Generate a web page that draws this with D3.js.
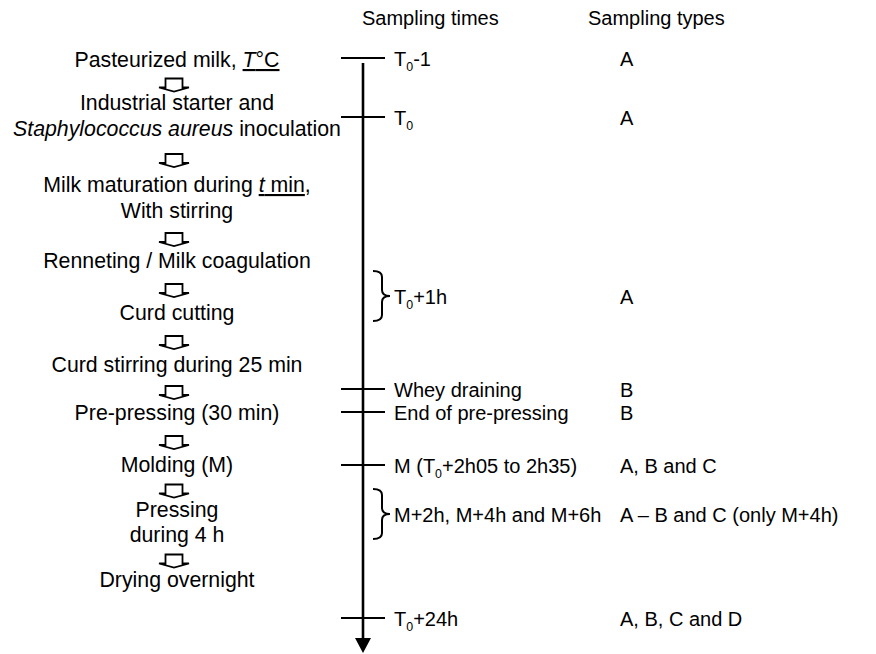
<!DOCTYPE html>
<html>
<head>
<meta charset="utf-8">
<script src="https://cdn.jsdelivr.net/npm/d3@7"></script>
<style>
  html, body { margin: 0; padding: 0; background: #fff; }
  svg { display: block; font-family: "Liberation Sans", Arial, Helvetica, sans-serif; }
</style>
</head>
<body>
<svg id="chart" width="876" height="654"></svg>
<script>
// ---------------- DATA ----------------
// Process steps (left column): each step = list of lines, each line = list of rich-text segments
// t: text, i: italic, u: underline, s: subscript
const processSteps = [
  [[{t:"Pasteurized milk, "},{t:"T",i:1,u:1},{t:"°C",u:1}]],
  [[{t:"Industrial starter and"}],[{t:"Staphylococcus aureus",i:1},{t:" inoculation"}]],
  [[{t:"Milk maturation during "},{t:"t",i:1,u:1},{t:" min",u:1},{t:","}],[{t:"With stirring"}]],
  [[{t:"Renneting / Milk coagulation"}]],
  [[{t:"Curd cutting"}]],
  [[{t:"Curd stirring during 25 min"}]],
  [[{t:"Pre-pressing (30 min)"}]],
  [[{t:"Molding (M)"}]],
  [[{t:"Pressing"}],[{t:"during 4 h"}]],
  [[{t:"Drying overnight"}]]
];

const headers = ["Sampling times", "Sampling types"];

const samplingTimes = [
  [{t:"T"},{t:"0",s:1},{t:"-1"}],
  [{t:"T"},{t:"0",s:1}],
  [{t:"T"},{t:"0",s:1},{t:"+1h"}],
  [{t:"Whey draining"}],
  [{t:"End of pre-pressing"}],
  [{t:"M ("},{t:"T"},{t:"0",s:1},{t:"+2h05 to 2h35)"}],
  [{t:"M+2h, M+4h and M+6h"}],
  [{t:"T"},{t:"0",s:1},{t:"+24h"}]
];
const samplingTypes = ["A","A","A","B","B","A, B and C","A \u2013 B and C (only M+4h)","A, B, C and D"];
const markerKinds = ["tick","tick","brace","tick","tick","tick","brace","tick"];

// ---------------- LAYOUT ----------------
const stepBaselines = [[67],[110,136],[192,218],[268],[320],[372],[420],[472],[517,542],[587]];
const eventY = [58,117,296,389,412,465,514,618];
const braceHalf = 25;

const leftFont = 21.3, rightFont = 20;
const leftCx = 177, arrowCx = 174;
const axisX = 363, axisTop = 63, axisBottom = 653;
const timeX = 394, typeX = 620;

const svg = d3.select("#chart");

// y scale (identity pixel scale in layout units)
const y = d3.scaleLinear().domain([0, 654]).range([0, 654]);

function richText(sel, segs, size) {
  segs.forEach(seg => {
    const ts = sel.append("tspan").text(seg.t);
    if (seg.i) ts.attr("font-style", "italic");
    if (seg.u) ts.attr("text-decoration", "underline");
    if (seg.s) {
      ts.attr("font-size", size * 0.62).attr("dy", size * 0.27);
      seg._sub = true;
    }
  });
  // fix dy after subscripts
  const tspans = sel.selectAll("tspan").nodes();
  segs.forEach((seg, k) => {
    if (seg.s && tspans[k + 1]) d3.select(tspans[k + 1]).attr("dy", -size * 0.27);
  });
}

// ---------- Left column: process steps ----------
const gLeft = svg.append("g").attr("font-size", leftFont).attr("fill", "#000");
processSteps.forEach((lines, si) => {
  lines.forEach((segs, li) => {
    const t = gLeft.append("text")
      .attr("x", leftCx)
      .attr("y", y(stepBaselines[si][li]))
      .attr("text-anchor", "middle");
    richText(t, segs, leftFont);
  });
});

// hollow block arrows between steps
const arrowPath = (cx, cy) => {
  const sw = 8.5, hw = 15, top = cy - 7, sh = cy + 2, tip = cy + 6;
  return `M${cx - sw},${sh} L${cx - sw},${top} L${cx + sw},${top} L${cx + sw},${sh} ` +
         `L${cx + hw},${sh} L${cx},${tip} L${cx - hw},${sh} Z`;
};
for (let si = 0; si < processSteps.length - 1; si++) {
  const b1 = stepBaselines[si][stepBaselines[si].length - 1];
  const b2 = stepBaselines[si + 1][0];
  const cy = y((b1 + b2) / 2 - 3);
  svg.append("path")
    .attr("d", arrowPath(arrowCx, cy))
    .attr("fill", "#fff")
    .attr("stroke", "#000")
    .attr("stroke-width", 1.8)
    .attr("stroke-linejoin", "miter");
}

// ---------- Headers ----------
svg.append("text").attr("x", 362).attr("y", 25).attr("font-size", rightFont).text(headers[0]);
svg.append("text").attr("x", 588).attr("y", 25).attr("font-size", rightFont).text(headers[1]);

// ---------- Time axis ----------
svg.append("line")
  .attr("x1", axisX).attr("x2", axisX)
  .attr("y1", y(axisTop)).attr("y2", y(axisBottom - 14))
  .attr("stroke", "#000").attr("stroke-width", 2.6);
svg.append("path")
  .attr("d", `M${axisX - 8},${y(axisBottom - 15)} L${axisX + 8},${y(axisBottom - 15)} L${axisX},${y(axisBottom)} Z`)
  .attr("fill", "#000");

// ---------- Sampling events ----------
samplingTimes.forEach((segs, k) => {
  const yy = y(eventY[k]);
  if (markerKinds[k] === "tick") {
    svg.append("line")
      .attr("x1", 341).attr("x2", 385)
      .attr("y1", yy).attr("y2", yy)
      .attr("stroke", "#000").attr("stroke-width", 2.2);
  } else {
    const x0 = 373, xm = 382, xt = 390, h = braceHalf, r = 6;
    const d = `M${x0},${yy - h} Q${xm},${yy - h} ${xm},${yy - h + r} ` +
              `L${xm},${yy - r} Q${xm},${yy} ${xt},${yy} ` +
              `Q${xm},${yy} ${xm},${yy + r} L${xm},${yy + h - r} ` +
              `Q${xm},${yy + h} ${x0},${yy + h}`;
    svg.append("path").attr("d", d)
      .attr("fill", "none").attr("stroke", "#000").attr("stroke-width", 2);
  }
  const t = svg.append("text")
    .attr("x", timeX).attr("y", yy + 7.5)
    .attr("font-size", rightFont);
  richText(t, segs, rightFont);
  svg.append("text")
    .attr("x", typeX).attr("y", yy + 7.5)
    .attr("font-size", rightFont)
    .text(samplingTypes[k]);
});
</script>
</body>
</html>
